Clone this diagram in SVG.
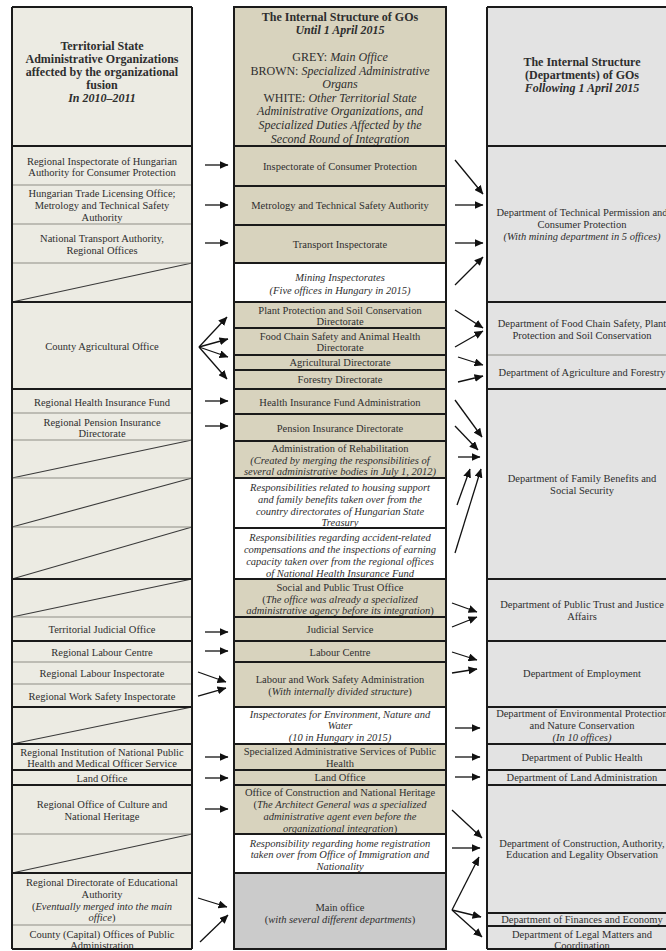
<svg xmlns="http://www.w3.org/2000/svg" width="666" height="951" viewBox="0 0 666 951">
<style>
text { font-family: "Liberation Serif", "Times New Roman", serif; fill: #2e2e2e; text-anchor: middle; dominant-baseline: central; font-size: 10.5px; }
.h { font-size: 12px; font-weight: bold; }
.hr { font-size: 12px; }
.i { font-style: italic; }
.bi { font-weight: bold; font-style: italic; }
.lc { fill: #ecebe3; }
.mc { fill: #d8d3be; stroke: #1a1a1a; stroke-width: 2; }
.wc { fill: #ffffff; stroke: #1a1a1a; stroke-width: 2; }
.gc { fill: #cbcbcb; stroke: #1a1a1a; stroke-width: 2; }
.rc { fill: #e3e3e3; }
.thin { stroke: #8e8e86; stroke-width: 1.2; fill: none; }
.thick { stroke: #1a1a1a; stroke-width: 2; fill: none; }
.diag { stroke: #3a3a3a; stroke-width: 1.1; }
.arr { stroke: #111; stroke-width: 1.3; fill: none; marker-end: url(#ah); }
</style>
<defs>
<marker id="ah" markerUnits="userSpaceOnUse" markerWidth="9" markerHeight="8" refX="8.5" refY="4" orient="auto">
<path d="M0,0 L9,4 L0,8 Z" fill="#111"/>
</marker>
</defs>
<rect width="666" height="951" fill="#ffffff"/>

<!-- LEFT COLUMN -->
<g id="left-column">
<rect class="lc" x="12" y="7" width="180" height="942"/>
<g id="L-header"><text class="h" x="102" y="46">Territorial State</text><text class="h" x="102" y="59">Administrative Organizations</text><text class="h" x="102" y="72">affected by the organizational</text><text class="h" x="102" y="85">fusion</text><text class="bi" style="font-size:12px" x="102" y="98">In 2010–2011</text></g>
<g id="L-consumer"><text x="102" y="161">Regional Inspectorate of Hungarian</text><text x="102" y="172">Authority for Consumer Protection</text></g>
<g id="L-trade"><text x="102" y="193">Hungarian Trade Licensing Office;</text><text x="102" y="205">Metrology and Technical Safety</text><text x="102" y="217">Authority</text></g>
<g id="L-transport"><text x="102" y="238">National Transport Authority,</text><text x="102" y="250">Regional Offices</text></g>
<g id="L-county-agri"><text x="102" y="346">County Agricultural Office</text></g>
<g id="L-health"><text x="102" y="402">Regional Health Insurance Fund</text></g>
<g id="L-pension"><text x="102" y="422">Regional Pension Insurance</text><text x="102" y="433">Directorate</text></g>
<g id="L-judicial"><text x="102" y="629">Territorial Judicial Office</text></g>
<g id="L-labour-centre"><text x="102" y="652">Regional Labour Centre</text></g>
<g id="L-labour-insp"><text x="102" y="673">Regional Labour Inspectorate</text></g>
<g id="L-work-safety"><text x="102" y="696">Regional Work Safety Inspectorate</text></g>
<g id="L-public-health"><text x="102" y="752">Regional Institution of National Public</text><text x="102" y="763">Health and Medical Officer Service</text></g>
<g id="L-land"><text x="102" y="778">Land Office</text></g>
<g id="L-culture"><text x="102" y="804">Regional Office of Culture and</text><text x="102" y="816">National Heritage</text></g>
<g id="L-education"><text x="102" y="882">Regional Directorate of Educational</text><text x="102" y="894">Authority</text><text x="102" y="906">(<tspan class="i">Eventually merged into the main</tspan></text><text x="102" y="917"><tspan class="i">office</tspan>)</text></g>
<g id="L-county-capital"><text x="102" y="934">County (Capital) Offices of Public</text><text x="102" y="945">Administration</text></g>
<g id="L-empty-cells">
<line class="diag" x1="12" y1="302" x2="192" y2="263"/>
<line class="diag" x1="12" y1="478" x2="192" y2="440"/>
<line class="diag" x1="12" y1="527" x2="192" y2="478"/>
<line class="diag" x1="12" y1="579" x2="192" y2="527"/>
<line class="diag" x1="12" y1="617" x2="192" y2="579"/>
<line class="diag" x1="12" y1="744" x2="192" y2="707"/>
<line class="diag" x1="12" y1="873" x2="192" y2="834"/>
</g>
<g id="L-lines">
<path class="thin" d="M12,185H192M12,224H192M12,263H192M12,413H192M12,440H192M12,478H192M12,527H192M12,617H192M12,662H192M12,684H192M12,834H192M12,925H192"/>
<path class="thick" d="M12,7H192M12,146H192M12,302H192M12,389H192M12,579H192M12,641H192M12,707H192M12,744H192M12,770H192M12,785H192M12,873H192M12,949H192M12,7V949M192,7V949"/>
</g>
</g>

<!-- MIDDLE COLUMN -->
<g id="middle-column">
<g id="M-header"><rect class="mc" x="234" y="7" width="212" height="139"/><text class="h" x="340" y="17">The Internal Structure of GOs</text><text class="bi" style="font-size:12px" x="340" y="30">Until 1 April 2015</text><text class="hr" x="340" y="57">GREY: <tspan class="i">Main Office</tspan></text><text class="hr" x="340" y="71">BROWN: <tspan class="i">Specialized Administrative</tspan></text><text class="hr i" x="340" y="84">Organs</text><text class="hr" x="340" y="98">WHITE: <tspan class="i">Other Territorial State</tspan></text><text class="hr i" x="340" y="111">Administrative Organizations, and</text><text class="hr i" x="340" y="125">Specialized Duties Affected by the</text><text class="hr i" x="340" y="139">Second Round of Integration</text></g>
<g id="M-consumer"><rect class="mc" x="234" y="146" width="212" height="40"/><text x="340" y="166">Inspectorate of Consumer Protection</text></g>
<g id="M-metrology"><rect class="mc" x="234" y="186" width="212" height="39"/><text x="340" y="205">Metrology and Technical Safety Authority</text></g>
<g id="M-transport"><rect class="mc" x="234" y="225" width="212" height="38"/><text x="340" y="244">Transport Inspectorate</text></g>
<g id="M-mining"><rect class="wc" x="234" y="263" width="212" height="39"/><text class="i" x="340" y="277">Mining Inspectorates</text><text class="i" x="340" y="290">(Five offices in Hungary in 2015)</text></g>
<g id="M-plant"><rect class="mc" x="234" y="302" width="212" height="26"/><text x="340" y="310">Plant Protection and Soil Conservation</text><text x="340" y="321">Directorate</text></g>
<g id="M-foodchain"><rect class="mc" x="234" y="328" width="212" height="27"/><text x="340" y="336">Food Chain Safety and Animal Health</text><text x="340" y="347">Directorate</text></g>
<g id="M-agri"><rect class="mc" x="234" y="355" width="212" height="15"/><text x="340" y="362.5">Agricultural Directorate</text></g>
<g id="M-forestry"><rect class="mc" x="234" y="370" width="212" height="19"/><text x="340" y="379.5">Forestry Directorate</text></g>
<g id="M-health"><rect class="mc" x="234" y="389" width="212" height="25"/><text x="340" y="402">Health Insurance Fund Administration</text></g>
<g id="M-pension"><rect class="mc" x="234" y="414" width="212" height="27"/><text x="340" y="428">Pension Insurance Directorate</text></g>
<g id="M-rehab"><rect class="mc" x="234" y="441" width="212" height="37"/><text x="340" y="448">Administration of Rehabilitation</text><text class="i" x="340" y="460">(Created by merging the responsibilities of</text><text class="i" x="340" y="471">several administrative bodies in July 1, 2012)</text></g>
<g id="M-housing"><rect class="wc" x="234" y="478" width="212" height="50"/><text class="i" x="340" y="487">Responsibilities related to housing support</text><text class="i" x="340" y="499">and family benefits taken over from the</text><text class="i" x="340" y="511">country directorates of Hungarian State</text><text class="i" x="340" y="522">Treasury</text></g>
<g id="M-accident"><rect class="wc" x="234" y="528" width="212" height="51"/><text class="i" x="340" y="537">Responsibilities regarding accident-related</text><text class="i" x="340" y="549">compensations and the inspections of earning</text><text class="i" x="340" y="561">capacity taken over from the regional offices</text><text class="i" x="340" y="573">of National Health Insurance Fund</text></g>
<g id="M-social-trust"><rect class="mc" x="234" y="579" width="212" height="38"/><text x="340" y="587">Social and Public Trust Office</text><text x="340" y="599">(<tspan class="i">The office was already a specialized</tspan></text><text x="340" y="610"><tspan class="i">administrative agency before its integration</tspan>)</text></g>
<g id="M-judicial"><rect class="mc" x="234" y="617" width="212" height="24"/><text x="340" y="629">Judicial Service</text></g>
<g id="M-labour-centre"><rect class="mc" x="234" y="641" width="212" height="21"/><text x="340" y="652">Labour Centre</text></g>
<g id="M-labour-safety"><rect class="mc" x="234" y="662" width="212" height="45"/><text x="340" y="679">Labour and Work Safety Administration</text><text x="340" y="691">(<tspan class="i">With internally divided structure</tspan>)</text></g>
<g id="M-environment"><rect class="wc" x="234" y="707" width="212" height="37"/><text class="i" x="340" y="714">Inspectorates for Environment, Nature and</text><text class="i" x="340" y="725">Water</text><text class="i" x="340" y="737">(10 in Hungary in 2015)</text></g>
<g id="M-public-health"><rect class="mc" x="234" y="744" width="212" height="26"/><text x="340" y="751">Specialized Administrative Services of Public</text><text x="340" y="763">Health</text></g>
<g id="M-land"><rect class="mc" x="234" y="770" width="212" height="15"/><text x="340" y="777.5">Land Office</text></g>
<g id="M-construction"><rect class="mc" x="234" y="785" width="212" height="49"/><text x="340" y="792">Office of Construction and National Heritage</text><text x="340" y="804">(<tspan class="i">The Architect General was a specialized</tspan></text><text class="i" x="340" y="816">administrative agent even before the</text><text x="340" y="828"><tspan class="i">organizational integration</tspan>)</text></g>
<g id="M-registration"><rect class="wc" x="234" y="834" width="212" height="39"/><text class="i" x="340" y="843">Responsibility regarding home registration</text><text class="i" x="340" y="854">taken over from Office of Immigration and</text><text class="i" x="340" y="866">Nationality</text></g>
<g id="M-main-office"><rect class="gc" x="234" y="873" width="212" height="76"/><text x="340" y="907">Main office</text><text x="340" y="919">(<tspan class="i">with several different departments</tspan>)</text></g>
</g>

<!-- RIGHT COLUMN -->
<g id="right-column">
<rect class="rc" x="487" y="7" width="193" height="942"/>
<g id="R-header"><text class="h" x="582" y="62">The Internal Structure</text><text class="h" x="582" y="75">(Departments) of GOs</text><text class="bi" style="font-size:12px" x="582" y="88">Following 1 April 2015</text></g>
<g id="R-technical"><text x="582" y="212">Department of Technical Permission and</text><text x="582" y="224">Consumer Protection</text><text class="i" x="582" y="236">(With mining department in 5 offices)</text></g>
<g id="R-foodchain"><text x="582" y="323">Department of Food Chain Safety, Plant</text><text x="582" y="335">Protection and Soil Conservation</text></g>
<g id="R-agri"><text x="582" y="372">Department of Agriculture and Forestry</text></g>
<g id="R-family"><text x="582" y="478">Department of Family Benefits and</text><text x="582" y="490">Social Security</text></g>
<g id="R-trust"><text x="582" y="604">Department of Public Trust and Justice</text><text x="582" y="616">Affairs</text></g>
<g id="R-employment"><text x="582" y="673">Department of Employment</text></g>
<g id="R-environment"><text x="582" y="713">Department of Environmental Protection</text><text x="582" y="725">and Nature Conservation</text><text class="i" x="582" y="737">(In 10 offices)</text></g>
<g id="R-public-health"><text x="582" y="757">Department of Public Health</text></g>
<g id="R-land"><text x="582" y="777.5">Department of Land Administration</text></g>
<g id="R-construction"><text x="582" y="843">Department of Construction, Authority,</text><text x="582" y="854">Education and Legality Observation</text></g>
<g id="R-finances"><text x="582" y="919.5">Department of Finances and Economy</text></g>
<g id="R-legal"><text x="582" y="934">Department of Legal Matters and</text><text x="582" y="945">Coordination</text></g>
<g id="R-lines">
<path class="thin" d="M487,355H680"/>
<path class="thick" d="M487,7H680M487,146H680M487,302H680M487,389H680M487,579H680M487,641H680M487,707H680M487,744H680M487,770H680M487,785H680M487,913H680M487,926H680M487,949H680M487,7V949"/>
</g>
</g>

<!-- CONNECTORS -->
<g id="connectors">
<line class="arr" x1="205" y1="165" x2="228" y2="165"/>
<line class="arr" x1="205" y1="205" x2="228" y2="205"/>
<line class="arr" x1="205" y1="243" x2="228" y2="243"/>
<line class="arr" x1="199" y1="347" x2="227" y2="317"/>
<line class="arr" x1="199" y1="347" x2="228" y2="339"/>
<line class="arr" x1="199" y1="347" x2="228" y2="357"/>
<line class="arr" x1="199" y1="347" x2="227" y2="379"/>
<line class="arr" x1="205" y1="401" x2="228" y2="401"/>
<line class="arr" x1="205" y1="426" x2="228" y2="426"/>
<line class="arr" x1="205" y1="632" x2="228" y2="632"/>
<line class="arr" x1="205" y1="651" x2="228" y2="651"/>
<line class="arr" x1="198" y1="672" x2="226" y2="682"/>
<line class="arr" x1="198" y1="696" x2="226" y2="688"/>
<line class="arr" x1="205" y1="757" x2="228" y2="757"/>
<line class="arr" x1="205" y1="778" x2="228" y2="778"/>
<line class="arr" x1="205" y1="809" x2="228" y2="809"/>
<line class="arr" x1="198" y1="898" x2="227" y2="907"/>
<line class="arr" x1="200" y1="942" x2="228" y2="915"/>

<line class="arr" x1="455" y1="160" x2="483" y2="194"/>
<line class="arr" x1="455" y1="205" x2="483" y2="205"/>
<line class="arr" x1="455" y1="243" x2="483" y2="243"/>
<line class="arr" x1="455" y1="285" x2="483" y2="257"/>
<line class="arr" x1="455" y1="310" x2="483" y2="328"/>
<line class="arr" x1="455" y1="347" x2="483" y2="331"/>
<line class="arr" x1="458" y1="357" x2="483" y2="365"/>
<line class="arr" x1="458" y1="382" x2="483" y2="376"/>
<line class="arr" x1="455" y1="400" x2="482" y2="437"/>
<line class="arr" x1="455" y1="426" x2="478" y2="450"/>
<line class="arr" x1="458" y1="457" x2="480" y2="457"/>
<line class="arr" x1="457" y1="505" x2="470" y2="469"/>
<line class="arr" x1="455" y1="553" x2="481" y2="469"/>
<line class="arr" x1="452" y1="603" x2="477" y2="612"/>
<line class="arr" x1="452" y1="627" x2="477" y2="617"/>
<line class="arr" x1="452" y1="652" x2="477" y2="660"/>
<line class="arr" x1="452" y1="673" x2="477" y2="669"/>
<line class="arr" x1="455" y1="728" x2="480" y2="728"/>
<line class="arr" x1="455" y1="757" x2="480" y2="757"/>
<line class="arr" x1="455" y1="777" x2="480" y2="777"/>
<line class="arr" x1="452" y1="810" x2="482" y2="838"/>
<line class="arr" x1="452" y1="848" x2="480" y2="848"/>
<line class="arr" x1="452" y1="910" x2="479" y2="857"/>
<line class="arr" x1="452" y1="910" x2="481" y2="917"/>
<line class="arr" x1="452" y1="910" x2="482" y2="937"/>
</g>
</svg>
